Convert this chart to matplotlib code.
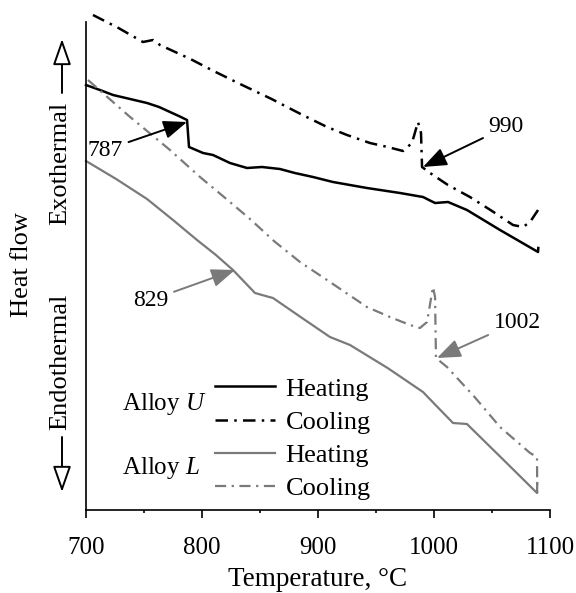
import numpy as np
import matplotlib
matplotlib.use("Agg")
import matplotlib.pyplot as plt

plt.rcParams['font.family'] = 'Liberation Serif'
plt.rcParams['mathtext.fontset'] = 'custom'
plt.rcParams['mathtext.it'] = 'Liberation Serif:italic'
plt.rcParams['mathtext.rm'] = 'Liberation Serif'

# Heat flow traces (arbitrary units)
u_heat_t = [700, 712, 723.3, 738, 752.6, 763, 772.4, 780, 787.1, 788.8, 800.9, 809.5,
            824.1, 838.8, 851.7, 867.2, 880, 895.7, 912.9, 942.2, 970.7, 990.5,
            1000.9, 1012.1, 1028.4, 1056.9, 1089.7, 1089.9]
u_heat_q = [425, 420, 415, 411, 407, 403, 398, 394, 390, 363, 357, 355,
            347, 342, 343, 341, 337, 333, 328, 322, 317, 313,
            307, 308, 300, 280, 258, 262]

u_cool_t = [706.0, 728, 749.1, 757.8, 763.8, 790, 810, 832.8, 860, 885, 907.8, 925,
            944.8, 960, 973.3, 981.0, 986.2, 988.8, 989.7, 996.6, 1012, 1031.0, 1050,
            1068.1, 1076.7, 1082.8, 1089.7]
u_cool_q = [495, 482, 468, 470, 465, 451, 439, 426, 411, 396, 383, 375,
            367, 363, 359, 367, 388, 377, 343, 337, 325, 313, 299,
            285, 283, 288, 300]

l_heat_t = [700, 726, 752.6, 775, 795.7, 812, 826.7, 845.7, 851.7, 861.2, 885, 910.3,
            927.6, 960, 990.5, 1003, 1016.4, 1028.4, 1060, 1088.8, 1089.0]
l_heat_q = [349, 331, 311, 290, 270, 255, 240, 217, 215, 212, 193, 173,
            165, 142, 118, 103, 87, 86, 50, 17, 27]

l_cool_t = [701.7, 737, 772.4, 798.3, 820, 841.4, 862, 884.5, 910.3, 942.2, 962, 979.3,
            987.9, 994.0, 999.1, 1000.9, 1001.7, 1011.2, 1035, 1056.9, 1082.8, 1088.8,
            1089.0]
l_cool_q = [430, 394, 360, 333, 312, 291, 269, 248, 228, 203, 193, 185,
            182, 188, 223, 213, 152, 143, 113, 83, 57, 53, 17]

# annotations: label, arrow tip (T, q), text centre (T, q), arrow colour
notes = [("787", (787.1, 388), (716.8, 360), "black"),
         ("990", (990.5, 343), (1062, 383), "black"),
         ("829", (828.4, 240), (756, 210), "#7a7a7a"),
         ("1002", (1002.6, 152), (1071.6, 188), "#7a7a7a")]

gray = "#7a7a7a"
dashdot = (0, (5, 2.5, 1, 2.5))

fig = plt.figure(figsize=(5.76, 5.93), dpi=100)
ax = fig.add_axes([86 / 576, 1 - 510 / 593, 464 / 576, 488 / 593])

ax.plot(u_heat_t, u_heat_q, color="black", lw=1.8, clip_on=False, label="Heating")
ax.plot(u_cool_t, u_cool_q, color="black", lw=1.8, ls=dashdot, clip_on=False, label="Cooling")
ax.plot(l_heat_t, l_heat_q, color=gray, lw=1.6, clip_on=False, label="Heating")
ax.plot(l_cool_t, l_cool_q, color=gray, lw=1.6, ls=dashdot, clip_on=False, label="Cooling")

for lab, tip, txt, c in notes:
    ax.annotate(lab, xy=tip, xytext=txt, ha="center", va="center", fontsize=17,
                arrowprops=dict(arrowstyle="-|>,head_length=0.9,head_width=0.35",
                                color=c, lw=1.4, mutation_scale=16,
                                shrinkA=2, shrinkB=0))

ax.set_xlim(700, 1100)
ax.set_ylim(0, 488)
ax.set_xticks([700, 800, 900, 1000, 1100])
ax.set_xticks([750, 850, 950, 1050], minor=True)
ax.set_yticks([])
ax.tick_params(axis="x", which="major", length=6, width=1.2, pad=13.5, labelsize=18)
ax.tick_params(axis="x", which="minor", length=2.5, width=1.2)
for s in ["top", "right"]:
    ax.spines[s].set_visible(False)
for s in ["left", "bottom"]:
    ax.spines[s].set_linewidth(1.2)
ax.set_xlabel("Temperature, °C", fontsize=19.5, labelpad=6)

leg = ax.legend(loc="lower left", bbox_to_anchor=(0.279, 0.02), frameon=False,
                fontsize=19, handlelength=2.25, handletextpad=0.4,
                labelspacing=0.37, borderpad=0, borderaxespad=0)
ax.text(0.078, 0.217, "Alloy $U$", transform=ax.transAxes, fontsize=18, va="center")
ax.text(0.078, 0.086, "Alloy $L$", transform=ax.transAxes, fontsize=18, va="center")

# y-axis side labels
fig.text(22 / 576, 1 - 265 / 593, "Heat flow", rotation=90, ha="center", va="center", fontsize=19)
fig.text(60 / 576, 1 - 163 / 593, "Exothermal", rotation=90, ha="center", va="center", fontsize=19)
fig.text(60 / 576, 1 - 362 / 593, "Endothermal", rotation=90, ha="center", va="center", fontsize=19)
aprops = dict(arrowstyle="-|>,head_length=1.0,head_width=0.35", lw=1.4,
              fc="white", ec="black", mutation_scale=16, shrinkA=0, shrinkB=0)
ax.annotate("", xy=(62 / 576, 1 - 39 / 593), xytext=(62 / 576, 1 - 93 / 593),
            xycoords="figure fraction", textcoords="figure fraction",
            arrowprops=aprops, annotation_clip=False)
ax.annotate("", xy=(62 / 576, 1 - 492 / 593), xytext=(62 / 576, 1 - 437 / 593),
            xycoords="figure fraction", textcoords="figure fraction",
            arrowprops=aprops, annotation_clip=False)

fig.savefig("out.png", dpi=100)
